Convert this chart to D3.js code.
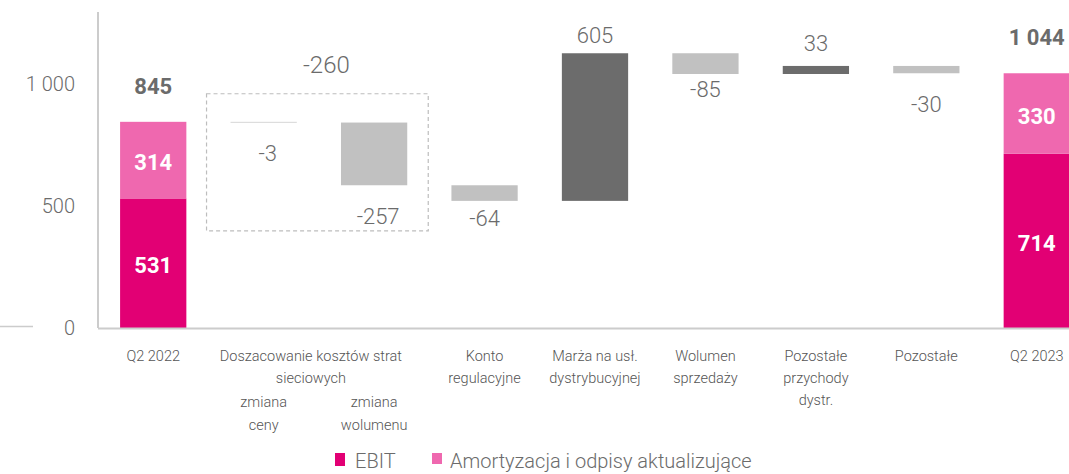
<!DOCTYPE html>
<html>
<head>
<meta charset="utf-8">
<script src="https://cdn.jsdelivr.net/npm/d3@7"></script>
<style>
  body { margin: 0; background: #fff; }
  svg text { font-family: Roboto, "Open Sans", sans-serif; }
</style>
</head>
<body>
<svg id="chart" width="1069" height="474"></svg>
<script>
// chart data
var categories = ["Q2 2022", "zmiana ceny", "zmiana wolumenu", "Konto regulacyjne",
  "Marża na usł. dystrybucyjnej", "Wolumen sprzedaży", "Pozostałe przychody dystr.",
  "Pozostałe", "Q2 2023"];
var catLines = [["Q2 2022"], [], [], ["Konto", "regulacyjne"],
  ["Marża na usł.", "dystrybucyjnej"], ["Wolumen", "sprzedaży"],
  ["Pozostałe", "przychody", "dystr."], ["Pozostałe"], ["Q2 2023"]];
var subLines = [[], ["zmiana", "ceny"], ["zmiana", "wolumenu"], [], [], [], [], [], []];
var ebit = [531, null, null, null, null, null, null, null, 714];
var amort = [314, null, null, null, null, null, null, null, 330];
var deltas = [null, -3, -257, -64, 605, -85, 33, -30, null];
var groupLabel = ["Doszacowanie kosztów strat", "sieciowych"];
var groupTotal = -260;
var yTicks = [0, 500, 1000];
var seriesNames = ["EBIT", "Amortyzacja i odpisy aktualizujące"];

var colEbit = "#e20074", colAmort = "#ef68af", colUp = "#6c6c6c", colDown = "#c1c1c1";
var txt = "#6b6b6b";

var svg = d3.select("#chart");

var x = d3.scaleBand().domain(categories).range([98, 1092]).paddingInner(0.4).paddingOuter(0.2);
var y = d3.scaleLinear().domain([0, 1000]).range([328, 84]);

function fmt(v) {
  var s = Math.abs(v).toString().replace(/\B(?=(\d{3})+(?!\d))/g, " ");
  return (v < 0 ? "-" : "") + s;
}

// axes lines
svg.append("line").attr("x1", 98).attr("x2", 98).attr("y1", 12).attr("y2", y(0))
  .attr("stroke", "#cccccc").attr("stroke-width", 2);
svg.append("line").attr("x1", 0).attr("x2", 33).attr("y1", y(0) - 1.5).attr("y2", y(0) - 1.5)
  .attr("stroke", "#cccccc").attr("stroke-width", 1.5);

svg.selectAll(".ytick").data(yTicks).enter().append("text")
  .attr("x", 75).attr("y", function(d) { return y(d) + 7; })
  .attr("text-anchor", "end").attr("font-size", 20).attr("font-weight", 300)
  .attr("fill", txt).text(fmt);

// compute waterfall running totals
var steps = [];
var run = ebit[0] + amort[0];
deltas.forEach(function(d, i) {
  if (d === null) return;
  steps.push({ cat: categories[i], i: i, start: run, end: run + d, v: d });
  run += d;
});

// dashed box around the network losses group
var gx0 = x(categories[1]) - 24, gx1 = x(categories[2]) + x.bandwidth() + 21;
svg.append("rect").attr("x", gx0).attr("y", y(960)).attr("width", gx1 - gx0)
  .attr("height", y(398) - y(960)).attr("fill", "none")
  .attr("stroke", "#bdbdbd").attr("stroke-width", 1.2).attr("stroke-dasharray", "4,3");
svg.append("text").attr("x", (gx0 + gx1) / 2 + 9).attr("y", 73)
  .attr("text-anchor", "middle").attr("font-size", 24).attr("font-weight", 300)
  .attr("fill", txt).text(fmt(groupTotal));

// stacked total bars
var totals = [0, 8];
totals.forEach(function(i) {
  var c = categories[i];
  svg.append("rect").attr("x", x(c)).attr("width", x.bandwidth())
    .attr("y", y(ebit[i])).attr("height", y(0) - y(ebit[i])).attr("fill", colEbit);
  svg.append("rect").attr("x", x(c)).attr("width", x.bandwidth())
    .attr("y", y(ebit[i] + amort[i])).attr("height", y(ebit[i]) - y(ebit[i] + amort[i]))
    .attr("fill", colAmort);
  var cx = x(c) + x.bandwidth() / 2;
  svg.append("text").attr("x", cx).attr("y", (y(0) + y(ebit[i])) / 2 + 10)
    .attr("text-anchor", "middle").attr("font-size", 22).attr("font-weight", 700)
    .attr("fill", "#fff").text(fmt(ebit[i]));
  svg.append("text").attr("x", cx).attr("y", (y(ebit[i]) + y(ebit[i] + amort[i])) / 2 + 10)
    .attr("text-anchor", "middle").attr("font-size", 22).attr("font-weight", 700)
    .attr("fill", "#fff").text(fmt(amort[i]));
  svg.append("text").attr("x", cx).attr("y", y(ebit[i] + amort[i]) - 28)
    .attr("text-anchor", "middle").attr("font-size", 22).attr("font-weight", 700)
    .attr("fill", "#6b6b6b").text(fmt(ebit[i] + amort[i]));
});

// floating bars
var labelGap = { 1: 30, 2: 31, 3: 17, 4: 18, 5: 15, 6: 23, 7: 31 };
svg.selectAll(".step").data(steps).enter().append("rect")
  .attr("x", function(d) { return x(d.cat); })
  .attr("width", x.bandwidth())
  .attr("y", function(d) { return y(Math.max(d.start, d.end)); })
  .attr("height", function(d) { return Math.max(1, Math.abs(y(d.start) - y(d.end))); })
  .attr("fill", function(d) { return d.v > 0 ? colUp : (Math.abs(d.v) < 10 ? "#d6d6d6" : colDown); });

svg.selectAll(".steplbl").data(steps).enter().append("text")
  .attr("x", function(d) { return x(d.cat) + x.bandwidth() / 2 + (d.i < 3 ? 4 : 0); })
  .attr("y", function(d) {
    var g = labelGap[d.i];
    return d.v > 0 ? y(Math.max(d.start, d.end)) - g + 8 : y(Math.min(d.start, d.end)) + g + 8;
  })
  .attr("text-anchor", "middle").attr("font-size", 22).attr("font-weight", 300)
  .attr("fill", txt).text(function(d) { return fmt(d.v); });

// baseline
svg.append("line").attr("x1", 98).attr("x2", 1069).attr("y1", y(0) + 0.5).attr("y2", y(0) + 0.5)
  .attr("stroke", "#cccccc").attr("stroke-width", 2);

// category labels
categories.forEach(function(c, i) {
  var cx = x(c) + x.bandwidth() / 2;
  catLines[i].forEach(function(l, k) {
    svg.append("text").attr("x", cx).attr("y", 361 + k * 22)
      .attr("text-anchor", "middle").attr("font-size", 14.5).attr("font-weight", 300)
      .attr("fill", "#555").text(l);
  });
  subLines[i].forEach(function(l, k) {
    svg.append("text").attr("x", cx).attr("y", 407 + k * 23)
      .attr("text-anchor", "middle").attr("font-size", 14.5).attr("font-weight", 300)
      .attr("fill", "#555").text(l);
  });
});
var gcx = (x(categories[1]) + x(categories[2]) + x.bandwidth()) / 2 - 8;
groupLabel.forEach(function(l, k) {
  svg.append("text").attr("x", gcx).attr("y", 361 + k * 22)
    .attr("text-anchor", "middle").attr("font-size", 14.5).attr("font-weight", 300)
    .attr("fill", "#555").text(l);
});

// legend
var leg = [{ name: seriesNames[0], col: colEbit, x: 335 }, { name: seriesNames[1], col: colAmort, x: 432 }];
leg.forEach(function(d, i) {
  svg.append("rect").attr("x", d.x).attr("y", 453).attr("width", 10).attr("height", i === 0 ? 13 : 11)
    .attr("fill", d.col);
  svg.append("text").attr("x", d.x + (i === 0 ? 20 : 18)).attr("y", 468)
    .attr("font-size", 20).attr("font-weight", 300).attr("fill", txt).text(d.name);
});
</script>
</body>
</html>
